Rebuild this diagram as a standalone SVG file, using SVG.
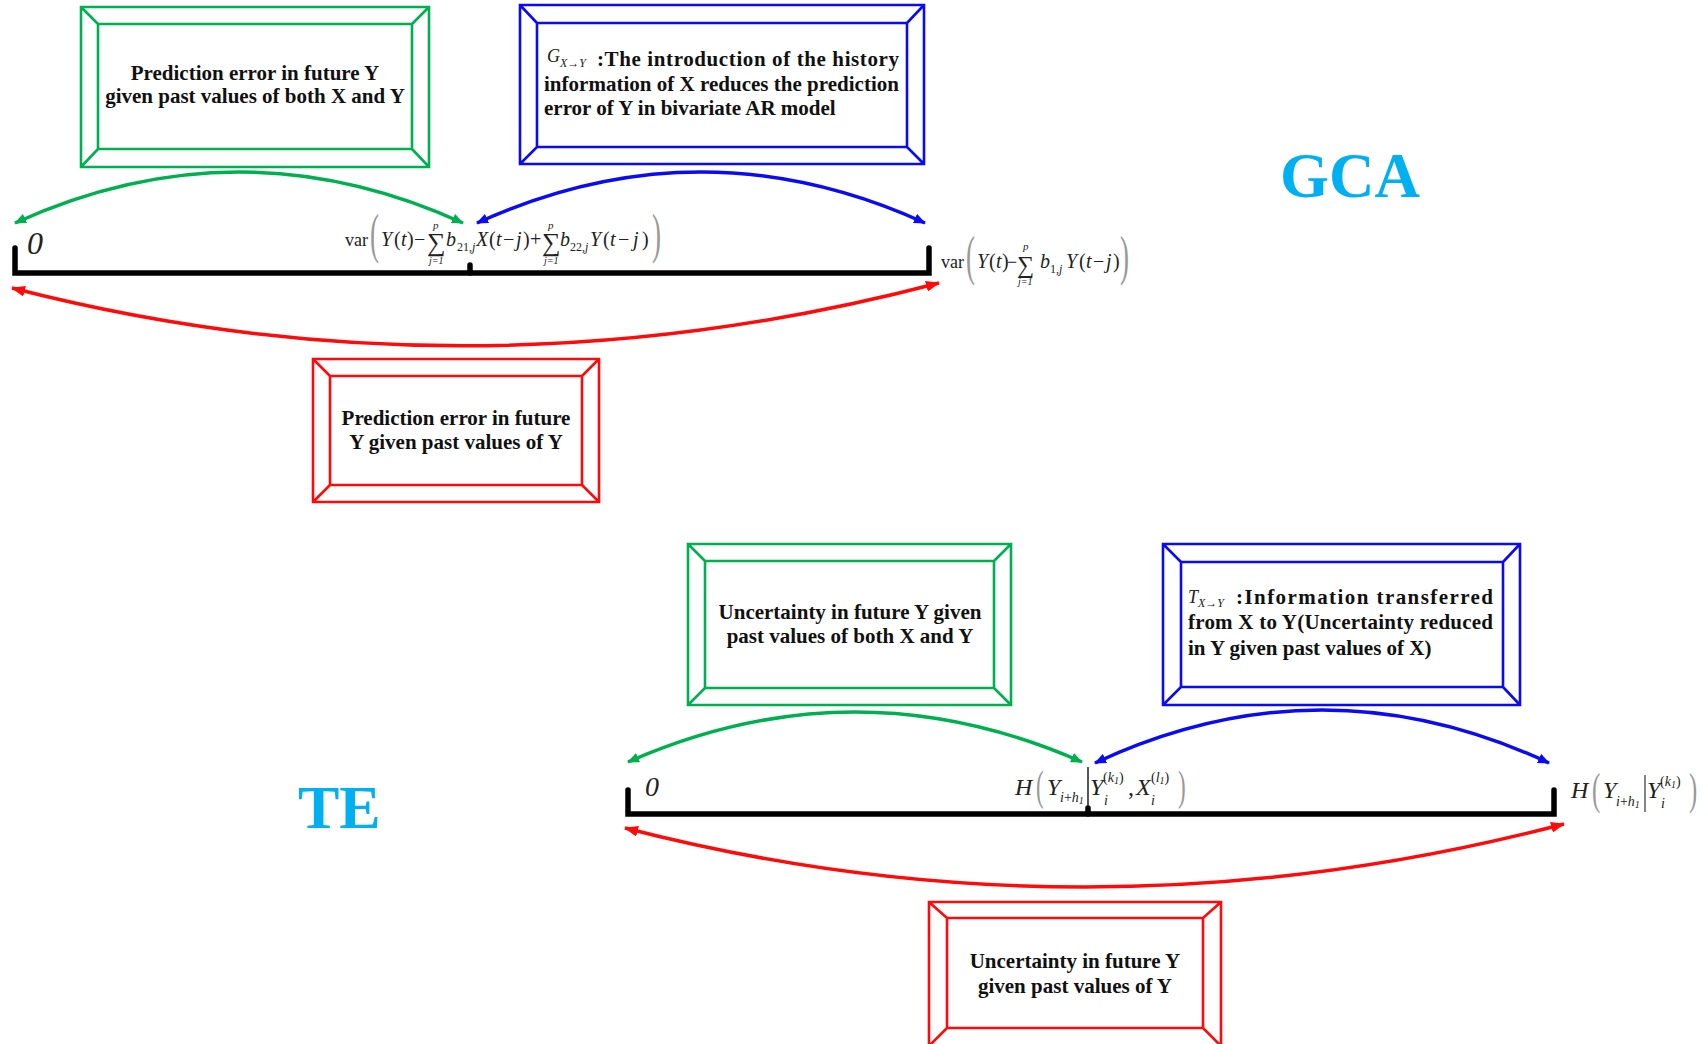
<svg xmlns="http://www.w3.org/2000/svg" width="1708" height="1044" viewBox="0 0 1708 1044">
<defs>
<style>
.bx{fill:none;stroke-width:2.6}
.g{stroke:#00B050}.b{stroke:#0A0AF5}.r{stroke:#FF0A0A}
.lbl{font-family:"Liberation Serif","Times New Roman",serif;font-weight:bold;font-size:21px;fill:#111}
.m{font-family:"Liberation Serif","Times New Roman",serif;font-style:italic;fill:#222}
.f{font-family:"Liberation Serif","Times New Roman",serif;fill:#222}
.par{font-family:"Liberation Serif","Times New Roman",serif;fill:#999}
.big{font-family:"Liberation Serif","Times New Roman",serif;font-weight:bold;fill:#00B0F0}
.arc{fill:none;stroke-width:3.5}
.axis{fill:none;stroke:#000;stroke-width:5.5;stroke-linecap:round}
</style>
<marker id="ag" viewBox="0 0 12 10" refX="11" refY="5" markerWidth="12" markerHeight="10" markerUnits="userSpaceOnUse" orient="auto-start-reverse"><path d="M0,0 L12,5 L0,10 z" fill="#00B050"/></marker>
<marker id="ab" viewBox="0 0 12 10" refX="11" refY="5" markerWidth="12" markerHeight="10" markerUnits="userSpaceOnUse" orient="auto-start-reverse"><path d="M0,0 L12,5 L0,10 z" fill="#0A0AF5"/></marker>
<marker id="ar" viewBox="0 0 14 11" refX="13" refY="5.5" markerWidth="14" markerHeight="11" markerUnits="userSpaceOnUse" orient="auto-start-reverse"><path d="M0,0 L14,5.5 L0,11 z" fill="#FF0A0A"/></marker>
</defs>
<rect width="1708" height="1044" fill="#fff"/>

<!-- titles -->
<text class="big" x="1280" y="197" font-size="63">GCA</text>
<text class="big" x="298" y="828" font-size="62">TE</text>

<!-- GCA boxes -->
<g id="gca-green">
<path class="bx g" d="M81,7H429V167H81Z M98,24H412V149H98Z M81,7L98,24 M429,7L412,24 M81,167L98,149 M429,167L412,149"/>
<text class="lbl" text-anchor="middle" x="255" y="80">Prediction error in future Y</text>
<text class="lbl" text-anchor="middle" x="255" y="103">given past values of both X and Y</text>
</g>
<g id="gca-blue">
<path class="bx b" d="M520,5H924V164H520Z M537,23H907V147H537Z M520,5L537,23 M924,5L907,23 M520,164L537,147 M924,164L907,147"/>
<text class="m" x="547" y="62" font-size="18" fill="#444">G<tspan font-size="12" dy="5">X→Y</tspan></text>
<text class="lbl" x="597" y="66" textLength="302" lengthAdjust="spacing">:The introduction of the history</text>
<text class="lbl" x="544" y="91" textLength="355" lengthAdjust="spacing">information of X reduces the prediction</text>
<text class="lbl" x="544" y="115">error of Y in bivariate AR model</text>
</g>
<g id="gca-red">
<path class="bx r" d="M313,359H599V502H313Z M330,376H582V485H330Z M313,359L330,376 M599,359L582,376 M313,502L330,485 M599,502L582,485"/>
<text class="lbl" text-anchor="middle" x="456" y="425">Prediction error in future</text>
<text class="lbl" text-anchor="middle" x="456" y="449">Y given past values of Y</text>
</g>

<!-- TE boxes -->
<g id="te-green">
<path class="bx g" d="M688,544H1011V705H688Z M705,561H994V688H705Z M688,544L705,561 M1011,544L994,561 M688,705L705,688 M1011,705L994,688"/>
<text class="lbl" text-anchor="middle" x="850" y="619">Uncertainty in future Y given</text>
<text class="lbl" text-anchor="middle" x="850" y="643">past values of both X and Y</text>
</g>
<g id="te-blue">
<path class="bx b" d="M1163,544H1520V705H1163Z M1181,562H1503V687H1181Z M1163,544L1181,562 M1520,544L1503,562 M1163,705L1181,687 M1520,705L1503,687"/>
<text class="m" x="1188" y="603" font-size="18" fill="#444">T<tspan font-size="12" dy="4">X→Y</tspan></text>
<text class="lbl" x="1236" y="604" textLength="257" lengthAdjust="spacing">:Information transferred</text>
<text class="lbl" x="1188" y="629" textLength="305" lengthAdjust="spacing">from X to Y(Uncertainty reduced</text>
<text class="lbl" x="1188" y="655">in Y given past values of X)</text>
</g>
<g id="te-red">
<path class="bx r" d="M929,902H1221V1046H929Z M947,918H1203V1028H947Z M929,902L947,918 M1221,902L1203,918 M929,1046L947,1028 M1221,1046L1203,1028"/>
<text class="lbl" text-anchor="middle" x="1075" y="968">Uncertainty in future Y</text>
<text class="lbl" text-anchor="middle" x="1075" y="993">given past values of Y</text>
</g>

<!-- axes -->
<g id="gca-axis">
<path class="axis" d="M15,248V273H929V248" stroke-linejoin="miter"/>
<path class="axis" d="M470,265V273"/>
<text class="m" x="27" y="254" font-size="32">0</text>
</g>
<g id="te-axis">
<path class="axis" d="M628,790V814H1554V790" stroke-linejoin="miter"/>
<path class="axis" d="M1088,808V814"/>
<text class="m" x="645" y="796" font-size="28">0</text>
</g>

<!-- GCA formulas -->
<g id="gca-formula-mid">
<text class="par" transform="translate(370,252) scale(0.5,1)" font-size="54">(</text>
<text class="par" transform="translate(652,252) scale(0.5,1)" font-size="54">)</text>
<text class="f" font-size="20" y="246"><tspan x="345" font-size="18">var</tspan><tspan x="381" font-style="italic">Y</tspan><tspan x="394">(</tspan><tspan x="401" font-style="italic">t</tspan><tspan x="407">)</tspan><tspan x="414">−</tspan><tspan x="427" y="251" font-size="26">∑</tspan><tspan x="433" y="229" font-size="11" font-style="italic">p</tspan><tspan x="429" y="264" font-size="10" font-style="italic">j=1</tspan><tspan x="446" y="246" font-style="italic">b</tspan><tspan x="457" y="251" font-size="12">21,</tspan><tspan font-size="12" font-style="italic">j</tspan><tspan x="476" y="246" font-style="italic">X</tspan><tspan x="489">(</tspan><tspan x="496" font-style="italic">t</tspan><tspan x="503">−</tspan><tspan x="516" font-style="italic">j</tspan><tspan x="523">)</tspan><tspan x="530">+</tspan><tspan x="542" y="251" font-size="26">∑</tspan><tspan x="548" y="229" font-size="11" font-style="italic">p</tspan><tspan x="544" y="264" font-size="10" font-style="italic">j=1</tspan><tspan x="560" y="246" font-style="italic">b</tspan><tspan x="570" y="251" font-size="12">22,</tspan><tspan font-size="12" font-style="italic">j</tspan><tspan x="590" y="246" font-style="italic">Y</tspan><tspan x="603">(</tspan><tspan x="610" font-style="italic">t</tspan><tspan x="618">−</tspan><tspan x="633" font-style="italic">j</tspan><tspan x="642">)</tspan></text>
</g>
<g id="gca-formula-right">
<text class="par" transform="translate(966,274) scale(0.5,1)" font-size="54">(</text>
<text class="par" transform="translate(1120,274) scale(0.5,1)" font-size="54">)</text>
<text class="f" font-size="20" y="268"><tspan x="941" font-size="18">var</tspan><tspan x="977" font-style="italic">Y</tspan><tspan x="989">(</tspan><tspan x="996" font-style="italic">t</tspan><tspan x="1002">)</tspan><tspan x="1007" font-size="18">−</tspan><tspan x="1017" y="273" font-size="24">∑</tspan><tspan x="1023" y="250" font-size="11" font-style="italic">p</tspan><tspan x="1018" y="285" font-size="10" font-style="italic">j=1</tspan><tspan x="1040" y="268" font-style="italic">b</tspan><tspan x="1050" y="273" font-size="12">1,</tspan><tspan font-size="12" font-style="italic">j</tspan><tspan x="1066" y="268" font-style="italic">Y</tspan><tspan x="1079">(</tspan><tspan x="1086" font-style="italic">t</tspan><tspan x="1093">−</tspan><tspan x="1106" font-style="italic">j</tspan><tspan x="1113">)</tspan></text>
</g>

<!-- TE formulas -->
<g id="te-formula-mid">
<text class="par" transform="translate(1036,800) scale(0.55,1)" font-size="42">(</text>
<text class="par" transform="translate(1178,800) scale(0.55,1)" font-size="42">)</text>
<line x1="1088" y1="767" x2="1088" y2="812" stroke="#111" stroke-width="1.4"/>
<text class="m" font-size="24" y="795"><tspan x="1015">H</tspan><tspan x="1047">Y</tspan><tspan x="1060" y="802" font-size="14">i</tspan><tspan font-size="14" font-style="normal">+</tspan><tspan font-size="14">h</tspan><tspan font-size="10" dy="2">1</tspan><tspan x="1090" y="795">Y</tspan><tspan x="1103" y="782" font-size="14" font-style="normal">(</tspan><tspan font-size="14">k</tspan><tspan font-size="10" dy="2">1</tspan><tspan font-size="14" font-style="normal" dy="-2">)</tspan><tspan x="1104" y="805" font-size="14">i</tspan><tspan x="1128" y="795" font-style="normal">,</tspan><tspan x="1136">X</tspan><tspan x="1151" y="782" font-size="14" font-style="normal">(</tspan><tspan font-size="14">l</tspan><tspan font-size="10" dy="2">1</tspan><tspan font-size="14" font-style="normal" dy="-2">)</tspan><tspan x="1151" y="805" font-size="14">i</tspan></text>
</g>
<g id="te-formula-right">
<text class="par" transform="translate(1592,804) scale(0.55,1)" font-size="45">(</text>
<text class="par" transform="translate(1689,804) scale(0.55,1)" font-size="45">)</text>
<line x1="1645" y1="775" x2="1645" y2="812" stroke="#333" stroke-width="1.2"/>
<text class="m" font-size="24" y="798"><tspan x="1571">H</tspan><tspan x="1603">Y</tspan><tspan x="1616" y="806" font-size="14">i</tspan><tspan font-size="14" font-style="normal">+</tspan><tspan font-size="14">h</tspan><tspan font-size="10" dy="2">1</tspan><tspan x="1647" y="798">Y</tspan><tspan x="1660" y="786" font-size="14" font-style="normal">(</tspan><tspan font-size="14">k</tspan><tspan font-size="10" dy="2">1</tspan><tspan font-size="14" font-style="normal" dy="-2">)</tspan><tspan x="1661" y="808" font-size="14">i</tspan></text>
</g>

<!-- connectors -->
<g id="connectors">
<path class="arc g" d="M15,223 Q239,121 463,223" marker-start="url(#ag)" marker-end="url(#ag)"/>
<path class="arc b" d="M477,223 Q701,121 925,223" marker-start="url(#ab)" marker-end="url(#ab)"/>
<path class="arc r" d="M12,288 Q470,406 939,283" marker-start="url(#ar)" marker-end="url(#ar)"/>
<path class="arc g" d="M628,762 Q855,662 1082,762" marker-start="url(#ag)" marker-end="url(#ag)"/>
<path class="arc b" d="M1095,763 Q1322,657 1549,763" marker-start="url(#ab)" marker-end="url(#ab)"/>
<path class="arc r" d="M625,828 Q1090,948 1564,824" marker-start="url(#ar)" marker-end="url(#ar)"/>
</g>
</svg>
